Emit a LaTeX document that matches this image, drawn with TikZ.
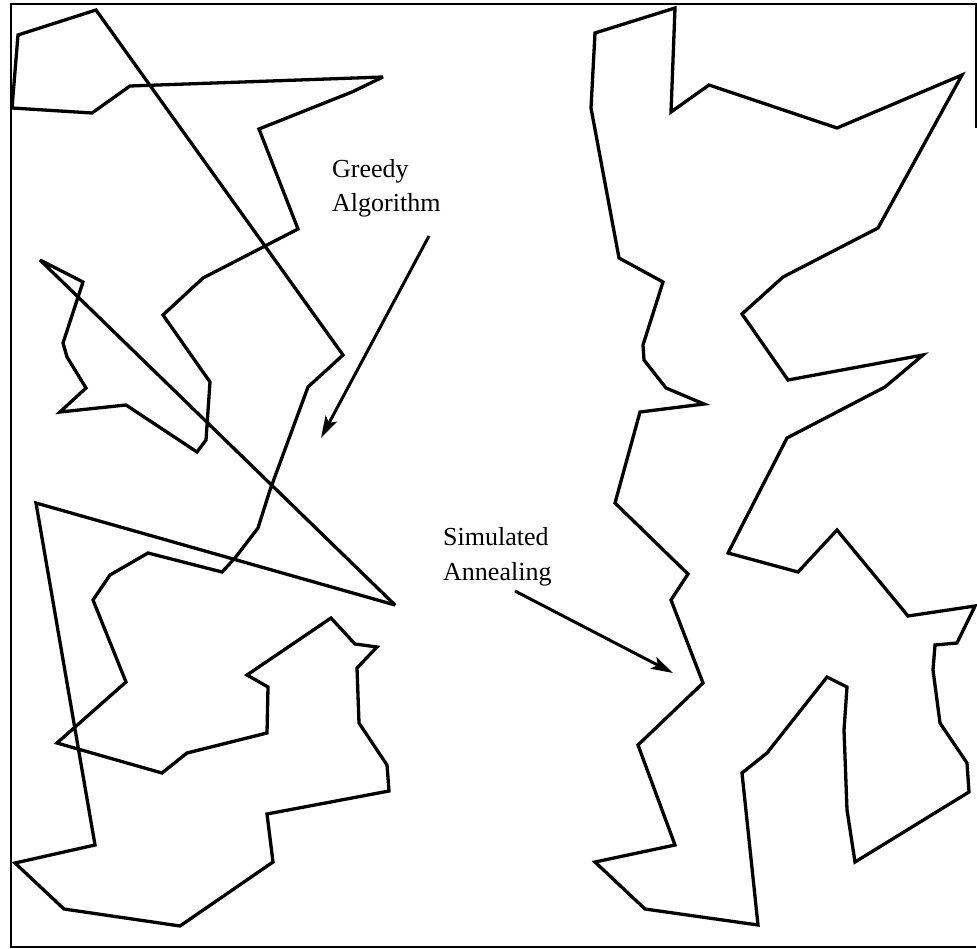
\documentclass[tikz,border=0pt]{standalone}
\usepackage{fontspec}
\setmainfont{Liberation Serif}
\usetikzlibrary{arrows.meta}
\begin{document}
\begin{tikzpicture}[x=1pt,y=-1pt,
  tour/.style={line width=3.3pt, line join=miter, miter limit=4},
  frame/.style={line width=2.4pt},
  pointer/.style={line width=3pt, -{Stealth[length=22pt,width=13pt,inset=5pt]}},
  lbl/.style={font=\fontsize{26}{34}\selectfont, inner sep=0pt, anchor=base west}]
\useasboundingbox (0,0) rectangle (977,949);
% frame
\draw[frame] (976,128) -- (976,4) -- (11,4) -- (11,947) -- (976,947);
% greedy tour
\draw[tour] (12,108) -- (18,35) -- (96,10) -- (343,355) -- (308,387) -- (270,490)
  -- (258,528) -- (235,558) -- (222,572) -- (148,553) -- (110,575) -- (93,600)
  -- (126,682) -- (57,743) -- (162,773) -- (187,753) -- (267,733) -- (268,687)
  -- (247,675) -- (331,618) -- (355,644) -- (377,647) -- (357,668) -- (359,723)
  -- (387,765) -- (389,791) -- (267,814) -- (273,862) -- (180,926) -- (64,909)
  -- (15,863) -- (95,845) -- (36,503) -- (395,605) -- (40,260) -- (83,282)
  -- (63,343) -- (67,357) -- (86,388) -- (60,412) -- (126,405) -- (197,452)
  -- (206,440) -- (210,382) -- (163,315) -- (203,278) -- (298,229) -- (259,129)
  -- (352,92) -- (383,77) -- (130,86) -- (92,113) -- cycle;
% simulated annealing tour
\draw[tour] (675,8) -- (671,112) -- (709,85) -- (837,128) -- (962,75) -- (878,228)
  -- (783,277) -- (742,314) -- (788,380) -- (923,355) -- (885,387) -- (787,438)
  -- (728,553) -- (798,572) -- (837,530) -- (908,616) -- (975,606) -- (957,643)
  -- (935,645) -- (933,670) -- (940,723) -- (967,763) -- (969,792) -- (855,862)
  -- (847,810) -- (844,730) -- (847,687) -- (827,677) -- (767,753) -- (742,773)
  -- (758,925) -- (645,909) -- (595,862) -- (675,845) -- (638,745) -- (703,683)
  -- (671,600) -- (688,574) -- (615,503) -- (640,412) -- (704,404) -- (666,388)
  -- (644,360) -- (643,345) -- (663,282) -- (619,258) -- (591,108) -- (595,33)
  -- cycle;
% labels
\node[lbl] (g1) at (332,178) {Greedy};
\node[lbl] (g2) at (332,212) {Algorithm};
\node[lbl] (s1) at (443,545) {Simulated};
\node[lbl] (s2) at (443,580) {Annealing};
\coordinate (gs) at (429,236);
\coordinate (ge) at (321,438);
\coordinate (ss) at (515,591);
\coordinate (se) at (673,673);
\draw[pointer] (gs) -- (ge);
\draw[pointer] (ss) -- (se);
\end{tikzpicture}
\end{document}
